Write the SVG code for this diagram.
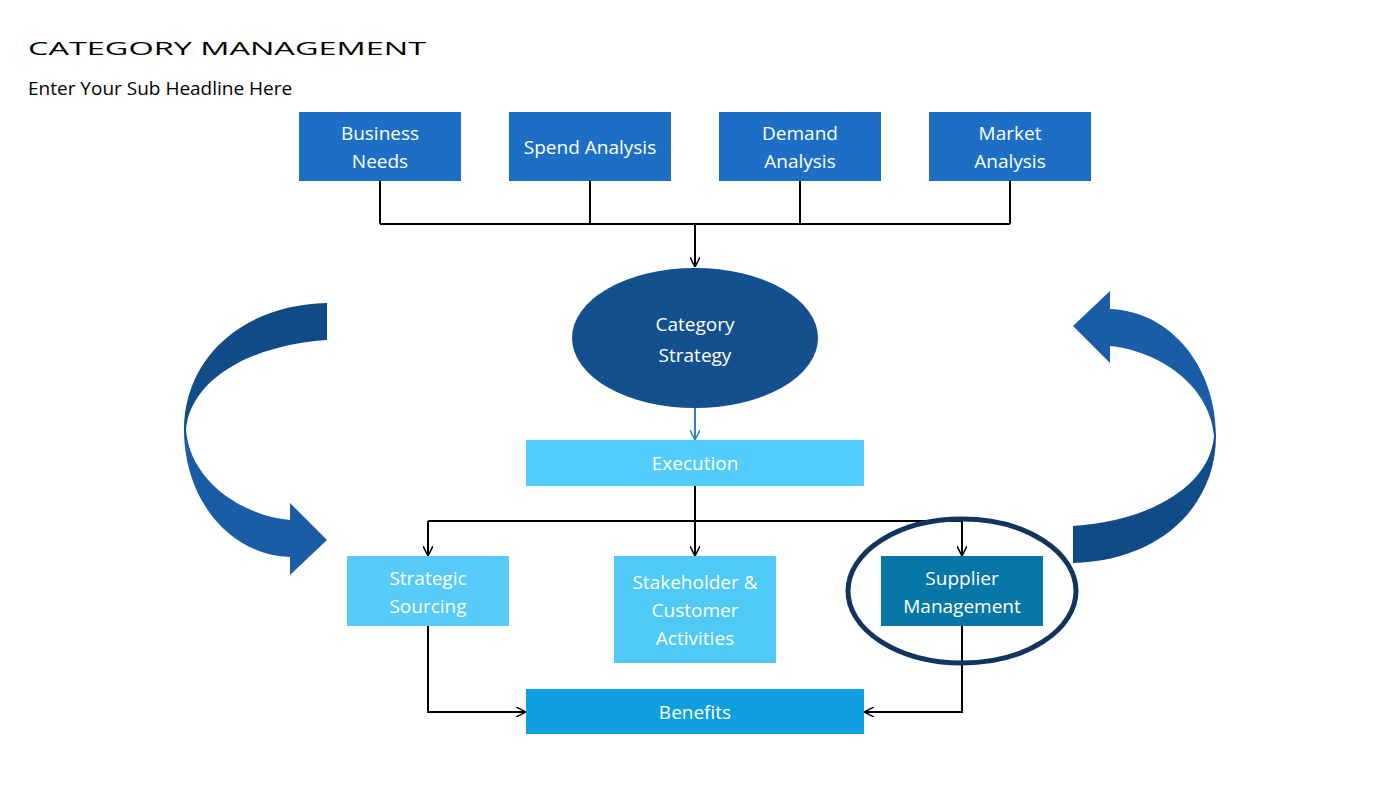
<svg xmlns="http://www.w3.org/2000/svg" width="1400" height="788" viewBox="0 0 1400 788">
<defs>
<linearGradient id="g" x1="0" y1="0" x2="0" y2="1"><stop offset="0" stop-color="#0f4a85"/><stop offset="0.5" stop-color="#134f8c"/><stop offset="0.5" stop-color="#1a5ca5"/><stop offset="1" stop-color="#1a5ca5"/></linearGradient>
<marker id="ah" markerWidth="10" markerHeight="10" refX="9" refY="5" orient="auto" markerUnits="userSpaceOnUse"><path d="M0,0 L10,5 L0,10" fill="none" stroke="#000" stroke-width="1.5"/></marker>
<marker id="ahb" markerWidth="10" markerHeight="10" refX="9" refY="5" orient="auto" markerUnits="userSpaceOnUse"><path d="M0,0 L10,5 L0,10" fill="none" stroke="#3a7fc8" stroke-width="1.5"/></marker>
<style>
text{font-family:"Open Sans","Liberation Sans",sans-serif;fill:#fff;font-size:19px;text-anchor:middle}
.t{fill:#000;text-anchor:start}
.c{fill:none;stroke:#000;stroke-width:2}
</style>
</defs>
<rect width="1400" height="788" fill="#fff"/>
<text class="t" x="28" y="55" font-size="31" textLength="398" lengthAdjust="spacingAndGlyphs">CATEGORY MANAGEMENT</text>
<text class="t" x="28" y="95" font-size="23">Enter Your Sub Headline Here</text>
<g id="arrows-big">
<path id="la" d="M327,303 L327,340 C250,345 190,380 186,430 C190,480 240,515 290,520 L290,503 L327,540 L290,575 L290,557 C230,555 184,500 184,430 C184,360 240,305 327,303 Z" fill="url(#g)"/>
<path id="ra" transform="matrix(-1 0 0 -1 1400 866)" d="M327,303 L327,340 C250,345 190,380 186,430 C190,480 240,515 290,520 L290,503 L327,540 L290,575 L290,557 C230,555 184,500 184,430 C184,360 240,305 327,303 Z" fill="url(#g)"/>
</g>
<g id="connectors">
<path class="c" d="M380,181V224M590,181V224M800,181V224M1010,181V224M380,224H1010"/>
<path class="c" d="M695,224V266" marker-end="url(#ah)"/>
<path d="M695,408V439" stroke="#3a7fc8" stroke-width="2" marker-end="url(#ahb)"/>
<path class="c" d="M695,486V555" marker-end="url(#ah)"/>
<path class="c" d="M428,521H962"/>
<path class="c" d="M428,521V555" marker-end="url(#ah)"/>
<path class="c" d="M962,521V555" marker-end="url(#ah)"/>
<path class="c" d="M428,626V712H525" marker-end="url(#ah)"/>
<path class="c" d="M962,626V712H865" marker-end="url(#ah)"/>
</g>
<g id="n1"><rect x="299" y="112" width="162" height="69" fill="#1c6fc4"/><text x="380" y="140">Business</text><text x="380" y="168">Needs</text></g>
<g id="n2"><rect x="509" y="112" width="162" height="69" fill="#1c6fc4"/><text x="590" y="154">Spend Analysis</text></g>
<g id="n3"><rect x="719" y="112" width="162" height="69" fill="#1c6fc4"/><text x="800" y="140">Demand</text><text x="800" y="168">Analysis</text></g>
<g id="n4"><rect x="929" y="112" width="162" height="69" fill="#1c6fc4"/><text x="1010" y="140">Market</text><text x="1010" y="168">Analysis</text></g>
<g id="n5"><ellipse cx="695" cy="338" rx="123" ry="70" fill="#14508e"/><text x="695" y="331" font-size="21">Category</text><text x="695" y="362" font-size="21">Strategy</text></g>
<g id="n6"><rect x="526" y="440" width="338" height="46" fill="#53cdfb"/><text x="695" y="470">Execution</text></g>
<g id="n7"><rect x="347" y="556" width="162" height="70" fill="#56cbf9"/><text x="428" y="585">Strategic</text><text x="428" y="613">Sourcing</text></g>
<g id="n8"><rect x="614" y="556" width="162" height="107" fill="#4fc9f6"/><text x="695" y="589">Stakeholder &amp;</text><text x="695" y="617">Customer</text><text x="695" y="645">Activities</text></g>
<g id="n9"><rect x="881" y="556" width="162" height="70" fill="#0777a8"/><text x="962" y="585">Supplier</text><text x="962" y="613">Management</text><ellipse cx="962" cy="591" rx="114" ry="72" fill="none" stroke="#12355f" stroke-width="5"/></g>
<g id="n10"><rect x="526" y="689" width="338" height="45" fill="#0e9fe0"/><text x="695" y="719">Benefits</text></g>
</svg>
